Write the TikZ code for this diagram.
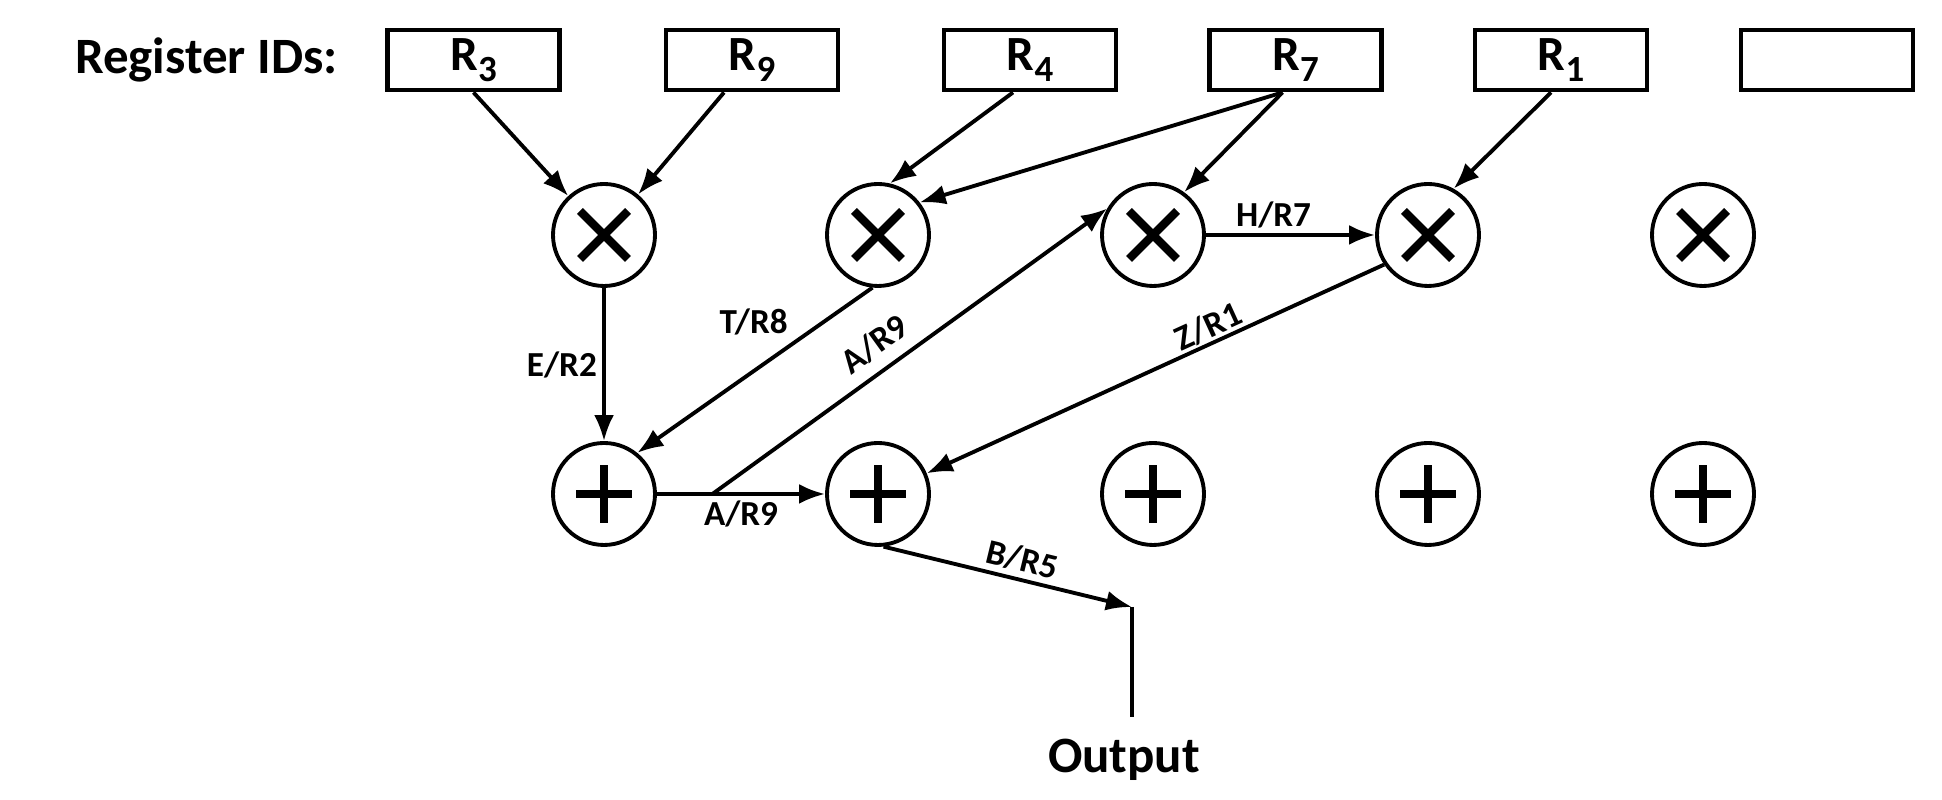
\documentclass[tikz,border=0pt]{standalone}
\usepackage{fontspec}
\setmainfont{Carlito}
\usetikzlibrary{arrows.meta, positioning, calc}

\newcommand{\regid}[1]{R\raisebox{-0.45ex}{\fontsize{10.5}{10.5}\selectfont #1}}

\begin{document}
\begin{tikzpicture}[
    reg/.style={draw, line width=1.4pt, minimum width=1.72cm, minimum height=0.6cm, inner sep=0pt, font=\fontsize{14}{16}\selectfont\bfseries},
    opcirc/.style={circle, draw, line width=1.1pt, minimum size=1.02cm, inner sep=0pt},
    mul/.style={opcirc, path picture={
        \draw[line width=2.4pt, shift={(path picture bounding box.center)}]
            (-0.24,-0.24) -- (0.24,0.24) (-0.24,0.24) -- (0.24,-0.24);}},
    add/.style={opcirc, path picture={
        \draw[line width=2.4pt, shift={(path picture bounding box.center)}]
            (-0.28,0) -- (0.28,0) (0,-0.29) -- (0,0.29);}},
    wire/.style={line width=1.1pt, -{Latex[length=2.6mm, width=2mm]}},
    rwire/.style={line width=1.1pt, {Latex[length=2.6mm, width=2mm]}-},
    lbl/.style={font=\fontsize{14.5}{17}\selectfont\bfseries},
    tag/.style={font=\fontsize{10}{12}\selectfont\bfseries, inner sep=1.5pt}
]
    \useasboundingbox (0,0) rectangle (19.42,8);

    % register row
    \node[reg] (r3) at (4.735,7.40) {\regid{3}};
    \node[reg] (r9) at (7.52,7.40) {\regid{9}};
    \node[reg] (r4) at (10.30,7.40) {\regid{4}};
    \node[reg] (r7) at (12.955,7.40) {\regid{7}};
    \node[reg] (r1) at (15.61,7.40) {\regid{1}};
    \node[reg] (rx) at (18.27,7.40) {};
    \node[lbl, left=0.35cm of r3] (regs) {Register IDs:};

    % multipliers and adders
    \foreach \i/\x in {1/6.04, 2/8.78, 3/11.53, 4/14.28, 5/17.03} {
        \node[mul] (m\i) at (\x,5.65) {};
        \node[add] (a\i) at (\x,3.06) {};
    }

    % register inputs
    \draw[wire] (r3.south) -- (m1);
    \draw[wire] ([xshift=-0.28cm]r9.south) -- (m1);
    \draw[wire] ([xshift=-0.17cm]r4.south) -- (m2.77);
    \draw[wire] ([xshift=-0.13cm]r7.south) -- (m2.38);
    \draw[wire] ([xshift=-0.13cm]r7.south) -- (m3.54);
    \draw[wire] ([xshift=-0.10cm]r1.south) -- (m4.61);

    % data flow
    \draw[wire] (m3) -- node[tag, pos=0.4, above] {H/R7} (m4);
    \draw[wire] (m1) -- node[tag, left] {E/R2} (a1);
    \draw[wire] (m2.-96) -- node[tag, pos=0.33, anchor=south east] {T/R8} (a1.51);
    \coordinate (br) at ($(a1.east)!0.33!(a2.west)$);
    \draw[wire] (a1) -- node[tag, below] {A/R9} (a2);
    \draw[wire] (br) -- node[tag, pos=0.45, sloped, above=0.06cm] {A/R9} (m3.150);
    \draw[rwire] (a2.23) -- node[tag, pos=0.63, sloped, above, inner sep=0.5pt] {Z/R1} (m4.214);

    % output
    \coordinate (otop) at (11.32,1.93);
    \coordinate (obot) at (11.32,0.83);
    \draw[wire] (a2.-84) -- node[tag, pos=0.54, sloped, above] {B/R5} (otop);
    \draw[line width=1.1pt] (otop) -- (obot);
    \node[lbl, below=0.1cm of obot, xshift=-0.08cm] (out) {Output};
\end{tikzpicture}
\end{document}
